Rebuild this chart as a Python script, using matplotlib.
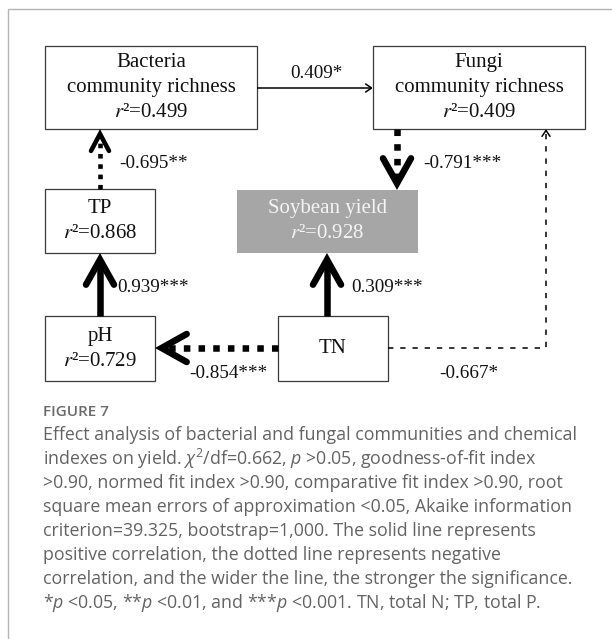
import numpy as np
import matplotlib
matplotlib.use("Agg")
from matplotlib import pyplot as plt
from matplotlib.patches import Rectangle

plt.rcParams['mathtext.fontset'] = 'custom'
plt.rcParams['mathtext.rm'] = 'Open Sans'
plt.rcParams['mathtext.it'] = 'Open Sans:italic'

# node data
node_keys = ["bac", "fun", "tp", "soy", "ph", "tn"]
node_names = ["Bacteria\ncommunity richness", "Fungi\ncommunity richness",
              "TP", "Soybean yield", "pH", "TN"]
node_r2 = [0.499, 0.409, 0.868, 0.928, 0.729, None]

# path data
path_from = ["bac", "tp", "fun", "ph", "tn", "tn", "tn"]
path_to = ["fun", "bac", "soy", "tp", "soy", "ph", "fun"]
path_coef = [0.409, -0.695, -0.791, 0.939, 0.309, -0.854, -0.667]
path_stars = [1, 2, 3, 3, 3, 3, 1]

caption_title = "FIGURE 7"
caption_lines = [
    "Effect analysis of bacterial and fungal communities and chemical",
    r"indexes on yield. $\chi^2$/df=0.662, $p$ >0.05, goodness-of-fit index",
    ">0.90, normed fit index >0.90, comparative fit index >0.90, root",
    "square mean errors of approximation <0.05, Akaike information",
    "criterion=39.325, bootstrap=1,000. The solid line represents",
    "positive correlation, the dotted line represents negative",
    "correlation, and the wider the line, the stronger the significance.",
    r"*$p$ <0.05, **$p$ <0.01, and ***$p$ <0.001. TN, total N; TP, total P.",
]

# layout (pixel coords, y down)
box_pos = {
    "bac": (45, 46, 257, 129),
    "fun": (373, 46, 585, 129),
    "tp": (45, 189, 155, 253),
    "soy": (237, 190, 418, 253),
    "ph": (45, 316, 155, 381),
    "tn": (278, 316, 388, 381),
}
# route of each path: points from source edge to target edge
routes = [
    [(257, 88), (373, 88)],
    [(100, 189), (100, 129)],
    [(397, 129), (397, 190)],
    [(100, 316), (100, 253)],
    [(327, 316), (327, 253)],
    [(278, 348), (155, 348)],
    [(388, 348), (546, 348), (546, 129)],
]
label_pos = [(316, 74, 'center'), (119, 163, 'left'), (423, 163, 'left'),
             (117, 288, 'left'), (351, 288, 'left'), (228, 373, 'center'),
             (469, 373, 'center')]
line_w = {1: 1.1, 2: 3.3, 3: 4.7}
head_size = {1: (4, 6), 2: (9, 17), 3: (14, 25)}

W, H = 612, 639
fig = plt.figure(figsize=(W / 100, H / 100), dpi=100)
ax = fig.add_axes([0, 0, 1, 1])
ax.set_xlim(0, W)
ax.set_ylim(H, 0)
ax.axis('off')

# outer frame (only left and top visible)
ax.plot([8, 8, W], [H, 9, 9], color='#b4b4b4', lw=1.0, solid_joinstyle='miter')

serif = 'Liberation Serif'
for key, name, r2 in zip(node_keys, node_names, node_r2):
    x0, y0, x1, y1 = box_pos[key]
    if key == "soy":
        ax.add_patch(Rectangle((x0, y0), x1 - x0, y1 - y0, facecolor='#a6a6a6', edgecolor='none'))
        tc = '#f4f4f4'
    else:
        ax.add_patch(Rectangle((x0, y0), x1 - x0, y1 - y0, facecolor='white',
                               edgecolor='#3a3a3a', lw=0.9))
        tc = '#111111'
    lines = name.split("\n")
    if r2 is not None:
        lines.append(r"$\mathit{r}$²=%.3f" % r2)
    cx, cy = (x0 + x1) / 2, (y0 + y1) / 2
    n = len(lines)
    for i, ln in enumerate(lines):
        ax.text(cx, cy + (i - (n - 1) / 2) * 25, ln, ha='center', va='center',
                fontsize=15, family=serif, color=tc, math_fontfamily='stix')

for pts, coef, st, (lx, ly, ha) in zip(routes, path_coef, path_stars, label_pos):
    lw = line_w[st]
    pts = np.array(pts, dtype=float)
    d = pts[-1] - pts[-2]
    d = d / np.hypot(*d)
    perp = np.array([-d[1], d[0]])
    hw, hl = head_size[st]
    lw_px = lw * 100 / 72
    half = np.arctan2(hw, hl)
    tip = pts[-1] - d * (lw_px / 2) / np.sin(half)
    shaft = pts.copy()
    shaft[-1] = tip - d * 2
    if coef > 0:
        ax.plot(shaft[:, 0], shaft[:, 1], color='black', lw=lw, solid_capstyle='butt')
    elif st == 1:
        ax.plot(shaft[:, 0], shaft[:, 1], color='black', lw=lw,
                linestyle=(0, (3.5, 4.5)), dash_capstyle='butt', dash_joinstyle='miter')
    else:
        ax.plot(shaft[:, 0], shaft[:, 1], color='black', lw=lw,
                linestyle=(0, (1.0, 1.25)), dash_capstyle='butt')
    head = np.array([tip - d * hl + perp * hw, tip, tip - d * hl - perp * hw])
    ax.plot(head[:, 0], head[:, 1], color='black', lw=max(lw, 1.1),
            solid_joinstyle='miter', solid_capstyle='round')
    txt = ("%.3f" % coef) + "*" * st
    ax.text(lx, ly, txt, ha=ha, va='center', fontsize=13.8, family=serif, color='#111111')

# caption
ax.text(43, 412, caption_title, ha='left', va='center', fontsize=11,
        family='Open Sans', fontweight='semibold', color='#6a6a6a')
for i, ln in enumerate(caption_lines):
    ax.text(43, 435 + 24 * i, ln, ha='left', va='center', fontsize=12.8,
            family='Open Sans', color='#636363', math_fontfamily='custom')

fig.savefig("out.png", dpi=100)
